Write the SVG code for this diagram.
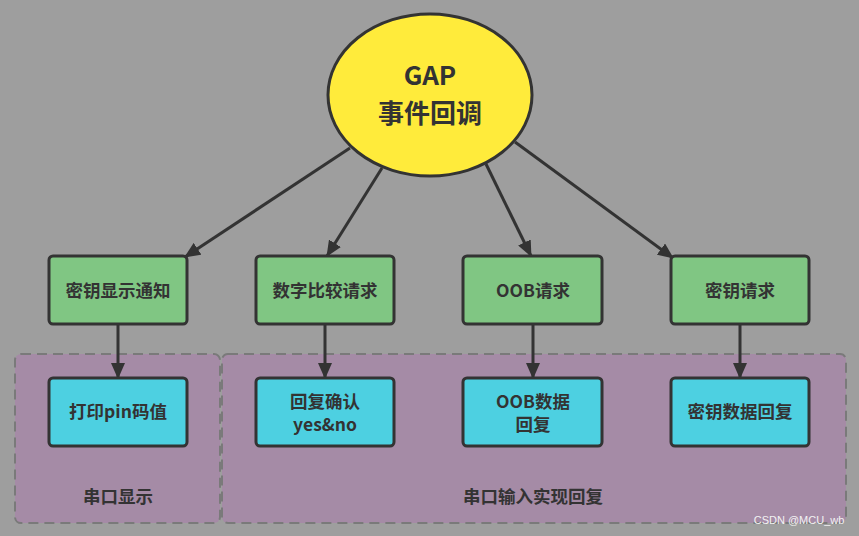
<svg xmlns="http://www.w3.org/2000/svg" width="859" height="536" viewBox="0 0 859 536">
<defs>
<marker id="ah" markerWidth="16" markerHeight="14" refX="15" refY="7" orient="auto" markerUnits="userSpaceOnUse" viewBox="0 0 16 14"><path d="M0,0 L16,7 L0,14 Z" fill="#333"/></marker>
<style>
.grp{fill:#a58ba6;stroke:#7a7a7a;stroke-width:2;stroke-dasharray:10 6}
.g{fill:#80c683;stroke:#333;stroke-width:3}
.c{fill:#4dd0e1;stroke:#333;stroke-width:3}
.t{font-family:"Noto Sans CJK SC","Noto Sans",sans-serif;font-weight:bold;fill:#333;text-anchor:middle}
.lbl{font-size:17.5px}
.edge{stroke:#333;stroke-width:3;fill:none;marker-end:url(#ah)}
</style>
</defs>
<rect width="859" height="536" fill="#9e9e9e"/>
<g id="group-left"><rect class="grp" x="15" y="354" width="205" height="169" rx="6"/><text class="t lbl" x="118" y="503">串口显示</text></g>
<g id="group-right"><rect class="grp" x="222" y="354" width="624" height="169" rx="6"/><text class="t lbl" x="533" y="503">串口输入实现回复</text></g>
<g id="connectors">
<line class="edge" x1="350" y1="148" x2="185" y2="257"/>
<line class="edge" x1="382" y1="168" x2="327" y2="256"/>
<line class="edge" x1="486" y1="164" x2="531" y2="256"/>
<line class="edge" x1="515" y1="142" x2="673" y2="258"/>
<line class="edge" x1="118" y1="324" x2="118" y2="378"/>
<line class="edge" x1="325" y1="324" x2="325" y2="378"/>
<line class="edge" x1="533" y1="324" x2="533" y2="378"/>
<line class="edge" x1="740" y1="324" x2="740" y2="378"/>
</g>
<g id="gap"><ellipse cx="430" cy="95" rx="102" ry="81" fill="#ffeb3b" stroke="#333" stroke-width="3"/><text class="t" x="430" y="85" font-size="26">GAP</text><text class="t" x="430" y="123" font-size="26">事件回调</text></g>
<g id="n1"><rect class="g" x="49" y="256" width="138" height="68" rx="4"/><text class="t lbl" x="118" y="297">密钥显示通知</text></g>
<g id="n2"><rect class="g" x="256" y="256" width="138" height="68" rx="4"/><text class="t lbl" x="325" y="297">数字比较请求</text></g>
<g id="n3"><rect class="g" x="463" y="256" width="139" height="68" rx="4"/><text class="t lbl" x="533" y="297">OOB请求</text></g>
<g id="n4"><rect class="g" x="671" y="256" width="138" height="68" rx="4"/><text class="t lbl" x="740" y="297">密钥请求</text></g>
<g id="c1"><rect class="c" x="49" y="378" width="138" height="68" rx="4"/><text class="t lbl" x="118" y="418">打印pin码值</text></g>
<g id="c2"><rect class="c" x="256" y="378" width="138" height="68" rx="4"/><text class="t lbl" x="325" y="408">回复确认</text><text class="t lbl" x="325" y="431">yes&amp;no</text></g>
<g id="c3"><rect class="c" x="463" y="378" width="139" height="68" rx="4"/><text class="t lbl" x="533" y="408">OOB数据</text><text class="t lbl" x="533" y="431">回复</text></g>
<g id="c4"><rect class="c" x="671" y="378" width="138" height="68" rx="4"/><text class="t lbl" x="740" y="418">密钥数据回复</text></g>
<text x="799" y="524" font-family="Liberation Sans,Arial,sans-serif" font-size="11" fill="#f2f2f2" text-anchor="middle">CSDN @MCU_wb</text>
</svg>
